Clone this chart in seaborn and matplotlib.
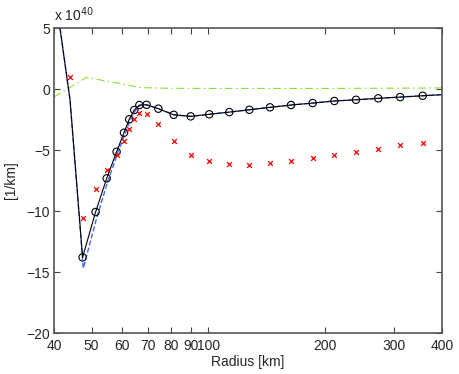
import numpy as np
import pandas as pd
import matplotlib
matplotlib.use("Agg")
import matplotlib.pyplot as plt
import seaborn as sns

# Radii of the sampled points [km]
radius_circ = [47.4, 51.2, 54.7, 58.0, 60.6, 62.5, 64.4, 66.4, 69.3, 74.3, 81.4,
               90.0, 100.5, 113.2, 127.5, 144.1, 163.3, 185.7, 211.2, 240.1, 274.0,
               312.0, 356.7]

# black solid line (circles), values in units of 1e40 1/km
black_vals = [-13.8, -10.08, -7.32, -5.14, -3.58, -2.48, -1.72, -1.31, -1.29, -1.61,
              -2.11, -2.24, -2.07, -1.89, -1.70, -1.50, -1.31, -1.15, -0.98, -0.88,
              -0.76, -0.66, -0.55]
black_start_r = [40.0, 44.0]
black_start_v = [8.5, -0.9]
black_end_r = [400.0]
black_end_v = [-0.46]

# blue dashed line
blue_r = [40.0, 44.0, 47.6, 51.5, 55.0, 58.3, 60.9, 62.8, 64.7, 66.6, 69.3, 74.3,
          81.4, 90.0, 100.5, 113.2, 127.5, 144.1, 163.3, 185.7, 211.2, 240.1,
          274.0, 312.0, 356.7, 400.0]
blue_vals = [8.6, -0.9, -14.7, -10.6, -7.6, -5.3, -3.7, -2.6, -1.8, -1.35, -1.29,
             -1.61, -2.11, -2.24, -2.07, -1.89, -1.70, -1.50, -1.31, -1.15, -0.98,
             -0.88, -0.76, -0.66, -0.55, -0.46]

# red crosses
red_r = [44.0] + radius_circ
red_vals = [1.01, -10.55, -8.22, -6.64, -5.41, -4.24, -3.25, -2.46, -1.99, -2.05,
            -2.84, -4.29, -5.43, -5.90, -6.15, -6.20, -6.09, -5.90, -5.66, -5.41,
            -5.14, -4.89, -4.62, -4.40]

# green dash-dot line
green_r = [40.0, 48.5, 57.0, 66.7, 80.0, 100.0, 150.0, 200.0, 300.0, 400.0]
green_vals = [-0.65, 0.95, 0.55, 0.12, 0.06, 0.05, 0.05, 0.05, 0.07, 0.09]

xticks = [40, 50, 60, 70, 80, 90, 100, 200, 300, 400]
yticks = [-20, -15, -10, -5, 0, 5]

sns.set_style("ticks")
plt.rcParams["font.family"] = ["Liberation Sans", "DejaVu Sans"]
plt.rcParams["font.size"] = 10

fig = plt.figure(figsize=(4.59, 3.74), dpi=100)
ax = fig.add_axes([0.1176, 0.1096, 0.8454, 0.8154])

black_df = pd.DataFrame({
    "r": black_start_r + radius_circ + black_end_r,
    "v": black_start_v + black_vals + black_end_v,
})
blue_df = pd.DataFrame({"r": blue_r, "v": blue_vals})
green_df = pd.DataFrame({"r": green_r, "v": green_vals})
red_df = pd.DataFrame({"r": red_r, "v": red_vals})
circ_df = pd.DataFrame({"r": radius_circ, "v": black_vals})

sns.lineplot(data=green_df, x="r", y="v", ax=ax, color="#88e030", lw=0.8,
             linestyle=(0, (7, 3, 1.5, 3)), sort=False, estimator=None)
sns.lineplot(data=blue_df, x="r", y="v", ax=ax, color="#4466ff", lw=1.0,
             linestyle="--", sort=False, estimator=None)
sns.lineplot(data=black_df, x="r", y="v", ax=ax, color="black", lw=0.8,
             sort=False, estimator=None)
sns.scatterplot(data=circ_df, x="r", y="v", ax=ax, marker="o", s=28,
                facecolor="none", edgecolor="black", linewidth=0.8, zorder=4)
sns.scatterplot(data=red_df, x="r", y="v", ax=ax, marker="x", s=12,
                color="red", linewidth=0.9, zorder=5)

ax.set_xscale("log")
ax.set_xlim(40, 400)
ax.set_ylim(-20, 5)
ax.set_xticks(xticks)
ax.set_xticklabels([str(t) for t in xticks])
ax.xaxis.set_minor_locator(matplotlib.ticker.NullLocator())
ax.set_yticks(yticks)
ax.set_yticklabels([str(t).replace("-", "\u2212") for t in yticks])
ax.tick_params(direction="in", length=4, width=0.8, top=True, right=True,
               labelsize=10, color="#444444")
ax.tick_params(axis="x", pad=4)
ax.tick_params(axis="y", pad=3)
for s in ax.spines.values():
    s.set_color("#555555")
    s.set_linewidth(1.2)

ax.set_xlabel("Radius [km]", fontsize=10, labelpad=2)
ax.set_ylabel("[1/km]", fontsize=10, labelpad=6)
ax.text(0.0, 1.012, "x 10$^{40}$", transform=ax.transAxes, fontsize=10,
        ha="left", va="bottom")

fig.savefig("out.png", dpi=100)
